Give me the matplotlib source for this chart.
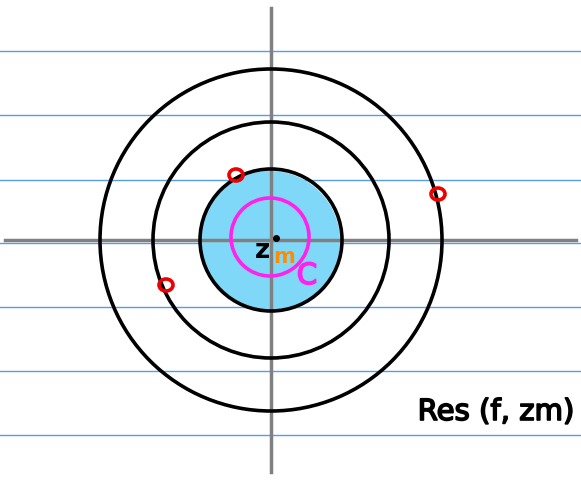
import numpy as np
import matplotlib
matplotlib.use("Agg")
import matplotlib.pyplot as plt
from matplotlib.patches import Circle, Ellipse
import matplotlib.patheffects as pe

# ---- data (pixel coordinates of the sketch) ----
rule_lines_y = [51, 115, 180, 243, 307, 371, 435]
center = (271, 240)
ring_radii = [171, 118, 71]
contour_c_center = (270, 237)
contour_c_radius = 39
pole_x = [236, 438, 166]
pole_y = [175, 194, 285]
residue_label = "Res (f, zm)"

W, H = 581, 480
fig = plt.figure(figsize=(W / 100, H / 100), dpi=100)
ax = fig.add_axes([0, 0, 1, 1])
ax.set_xlim(0, W)
ax.set_ylim(H, 0)
ax.set_aspect("equal")
ax.axis("off")

# ruled paper lines
for y in rule_lines_y:
    ax.plot([0, W], [y, y], color="#5a9be6", lw=1.0, zorder=1)

# blue filled disk
ax.add_patch(Circle((center[0] - 1, center[1] + 1), ring_radii[2] - 1,
                    facecolor="#80d8f8", edgecolor="none", zorder=2))

# axes
ax.plot([5, 576], [center[1], center[1]], color="#808080", lw=2.5, zorder=3)
ax.plot([center[0], center[0]], [8, 472], color="#808080", lw=2.5, zorder=3)

# rings
for r in ring_radii:
    ax.add_patch(Circle(center, r, facecolor="none", edgecolor="black",
                        lw=2.6, zorder=4))

# contour C
ax.add_patch(Circle(contour_c_center, contour_c_radius, facecolor="none",
                    edgecolor="#ff22ee", lw=2.6, zorder=5))

# poles
for px, py in zip(pole_x, pole_y):
    ax.add_patch(Ellipse((px, py), 14, 12, facecolor="none",
                         edgecolor="#ee0000", lw=2.6, zorder=6))

stroke = [pe.withStroke(linewidth=1.2, foreground="black")]

# center point
ax.plot([276], [238], "o", color="black", ms=4, zorder=7)
ax.text(262, 251, "z", fontsize=19, fontweight="bold", ha="center",
        va="center", color="black", zorder=7)
ax.text(284, 257, "m", fontsize=15, fontweight="bold", ha="center",
        va="center", color="#ff8c00", zorder=7)
ax.text(307, 276, "C", fontsize=21, ha="center", va="center",
        color="#ff22ee", zorder=7,
        path_effects=[pe.withStroke(linewidth=1.2, foreground="#ff22ee")])

ax.text(496, 412, residue_label, fontsize=21, ha="center", va="center",
        color="black", zorder=7, path_effects=stroke)

fig.savefig("out.png", dpi=100)
